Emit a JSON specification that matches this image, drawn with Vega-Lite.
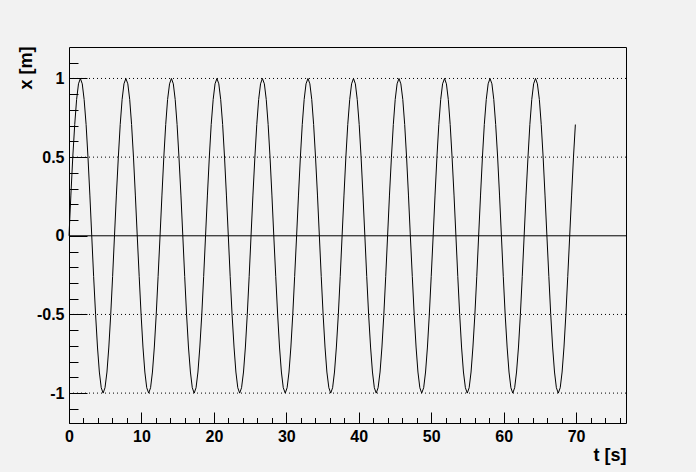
{
  "$schema": "https://vega.github.io/schema/vega-lite/v6.json",
  "width": 557,
  "height": 376,
  "autosize": "none",
  "padding": {"left": 69, "top": 47, "right": 70, "bottom": 49},
  "background": "#f2f2f2",
  "datasets": {
    "grid": [{"level": -1}, {"level": -0.5}, {"level": 0.5}, {"level": 1}],
    "zero": [{"t": 0, "x": 0}, {"t": 76.89, "x": 0}],
    "curve": [
      {"t":0,"x":0},{"t":0.26,"x":0.2588},{"t":0.52,"x":0.5},{"t":0.79,"x":0.7071},{"t":1.05,"x":0.866},{"t":1.31,"x":0.9659},{"t":1.57,"x":1},{"t":1.83,"x":0.9659},{"t":2.09,"x":0.866},{"t":2.36,"x":0.7071},{"t":2.62,"x":0.5},{"t":2.88,"x":0.2588},{"t":3.14,"x":0},{"t":3.4,"x":-0.2588},{"t":3.67,"x":-0.5},{"t":3.93,"x":-0.7071},{"t":4.19,"x":-0.866},{"t":4.45,"x":-0.9659},{"t":4.71,"x":-1},{"t":4.97,"x":-0.9659},{"t":5.24,"x":-0.866},{"t":5.5,"x":-0.7071},{"t":5.76,"x":-0.5},{"t":6.02,"x":-0.2588},
      {"t":6.28,"x":0},{"t":6.54,"x":0.2588},{"t":6.81,"x":0.5},{"t":7.07,"x":0.7071},{"t":7.33,"x":0.866},{"t":7.59,"x":0.9659},{"t":7.85,"x":1},{"t":8.12,"x":0.9659},{"t":8.38,"x":0.866},{"t":8.64,"x":0.7071},{"t":8.9,"x":0.5},{"t":9.16,"x":0.2588},{"t":9.42,"x":0},{"t":9.69,"x":-0.2588},{"t":9.95,"x":-0.5},{"t":10.21,"x":-0.7071},{"t":10.47,"x":-0.866},{"t":10.73,"x":-0.9659},{"t":11.0,"x":-1},{"t":11.26,"x":-0.9659},{"t":11.52,"x":-0.866},{"t":11.78,"x":-0.7071},{"t":12.04,"x":-0.5},{"t":12.3,"x":-0.2588},
      {"t":12.57,"x":0},{"t":12.83,"x":0.2588},{"t":13.09,"x":0.5},{"t":13.35,"x":0.7071},{"t":13.61,"x":0.866},{"t":13.88,"x":0.9659},{"t":14.14,"x":1},{"t":14.4,"x":0.9659},{"t":14.66,"x":0.866},{"t":14.92,"x":0.7071},{"t":15.18,"x":0.5},{"t":15.45,"x":0.2588},{"t":15.71,"x":0},{"t":15.97,"x":-0.2588},{"t":16.23,"x":-0.5},{"t":16.49,"x":-0.7071},{"t":16.76,"x":-0.866},{"t":17.02,"x":-0.9659},{"t":17.28,"x":-1},{"t":17.54,"x":-0.9659},{"t":17.8,"x":-0.866},{"t":18.06,"x":-0.7071},{"t":18.33,"x":-0.5},{"t":18.59,"x":-0.2588},
      {"t":18.85,"x":0},{"t":19.11,"x":0.2588},{"t":19.37,"x":0.5},{"t":19.63,"x":0.7071},{"t":19.9,"x":0.866},{"t":20.16,"x":0.9659},{"t":20.42,"x":1},{"t":20.68,"x":0.9659},{"t":20.94,"x":0.866},{"t":21.21,"x":0.7071},{"t":21.47,"x":0.5},{"t":21.73,"x":0.2588},{"t":21.99,"x":0},{"t":22.25,"x":-0.2588},{"t":22.51,"x":-0.5},{"t":22.78,"x":-0.7071},{"t":23.04,"x":-0.866},{"t":23.3,"x":-0.9659},{"t":23.56,"x":-1},{"t":23.82,"x":-0.9659},{"t":24.09,"x":-0.866},{"t":24.35,"x":-0.7071},{"t":24.61,"x":-0.5},{"t":24.87,"x":-0.2588},
      {"t":25.13,"x":0},{"t":25.39,"x":0.2588},{"t":25.66,"x":0.5},{"t":25.92,"x":0.7071},{"t":26.18,"x":0.866},{"t":26.44,"x":0.9659},{"t":26.7,"x":1},{"t":26.97,"x":0.9659},{"t":27.23,"x":0.866},{"t":27.49,"x":0.7071},{"t":27.75,"x":0.5},{"t":28.01,"x":0.2588},{"t":28.27,"x":0},{"t":28.54,"x":-0.2588},{"t":28.8,"x":-0.5},{"t":29.06,"x":-0.7071},{"t":29.32,"x":-0.866},{"t":29.58,"x":-0.9659},{"t":29.85,"x":-1},{"t":30.11,"x":-0.9659},{"t":30.37,"x":-0.866},{"t":30.63,"x":-0.7071},{"t":30.89,"x":-0.5},{"t":31.15,"x":-0.2588},
      {"t":31.42,"x":0},{"t":31.68,"x":0.2588},{"t":31.94,"x":0.5},{"t":32.2,"x":0.7071},{"t":32.46,"x":0.866},{"t":32.72,"x":0.9659},{"t":32.99,"x":1},{"t":33.25,"x":0.9659},{"t":33.51,"x":0.866},{"t":33.77,"x":0.7071},{"t":34.03,"x":0.5},{"t":34.3,"x":0.2588},{"t":34.56,"x":0},{"t":34.82,"x":-0.2588},{"t":35.08,"x":-0.5},{"t":35.34,"x":-0.7071},{"t":35.6,"x":-0.866},{"t":35.87,"x":-0.9659},{"t":36.13,"x":-1},{"t":36.39,"x":-0.9659},{"t":36.65,"x":-0.866},{"t":36.91,"x":-0.7071},{"t":37.18,"x":-0.5},{"t":37.44,"x":-0.2588},
      {"t":37.7,"x":0},{"t":37.96,"x":0.2588},{"t":38.22,"x":0.5},{"t":38.48,"x":0.7071},{"t":38.75,"x":0.866},{"t":39.01,"x":0.9659},{"t":39.27,"x":1},{"t":39.53,"x":0.9659},{"t":39.79,"x":0.866},{"t":40.06,"x":0.7071},{"t":40.32,"x":0.5},{"t":40.58,"x":0.2588},{"t":40.84,"x":0},{"t":41.1,"x":-0.2588},{"t":41.36,"x":-0.5},{"t":41.63,"x":-0.7071},{"t":41.89,"x":-0.866},{"t":42.15,"x":-0.9659},{"t":42.41,"x":-1},{"t":42.67,"x":-0.9659},{"t":42.94,"x":-0.866},{"t":43.2,"x":-0.7071},{"t":43.46,"x":-0.5},{"t":43.72,"x":-0.2588},
      {"t":43.98,"x":0},{"t":44.24,"x":0.2588},{"t":44.51,"x":0.5},{"t":44.77,"x":0.7071},{"t":45.03,"x":0.866},{"t":45.29,"x":0.9659},{"t":45.55,"x":1},{"t":45.81,"x":0.9659},{"t":46.08,"x":0.866},{"t":46.34,"x":0.7071},{"t":46.6,"x":0.5},{"t":46.86,"x":0.2588},{"t":47.12,"x":0},{"t":47.39,"x":-0.2588},{"t":47.65,"x":-0.5},{"t":47.91,"x":-0.7071},{"t":48.17,"x":-0.866},{"t":48.43,"x":-0.9659},{"t":48.69,"x":-1},{"t":48.96,"x":-0.9659},{"t":49.22,"x":-0.866},{"t":49.48,"x":-0.7071},{"t":49.74,"x":-0.5},{"t":50.0,"x":-0.2588},
      {"t":50.27,"x":0},{"t":50.53,"x":0.2588},{"t":50.79,"x":0.5},{"t":51.05,"x":0.7071},{"t":51.31,"x":0.866},{"t":51.57,"x":0.9659},{"t":51.84,"x":1},{"t":52.1,"x":0.9659},{"t":52.36,"x":0.866},{"t":52.62,"x":0.7071},{"t":52.88,"x":0.5},{"t":53.15,"x":0.2588},{"t":53.41,"x":0},{"t":53.67,"x":-0.2588},{"t":53.93,"x":-0.5},{"t":54.19,"x":-0.7071},{"t":54.45,"x":-0.866},{"t":54.72,"x":-0.9659},{"t":54.98,"x":-1},{"t":55.24,"x":-0.9659},{"t":55.5,"x":-0.866},{"t":55.76,"x":-0.7071},{"t":56.03,"x":-0.5},{"t":56.29,"x":-0.2588},
      {"t":56.55,"x":0},{"t":56.81,"x":0.2588},{"t":57.07,"x":0.5},{"t":57.33,"x":0.7071},{"t":57.6,"x":0.866},{"t":57.86,"x":0.9659},{"t":58.12,"x":1},{"t":58.38,"x":0.9659},{"t":58.64,"x":0.866},{"t":58.9,"x":0.7071},{"t":59.17,"x":0.5},{"t":59.43,"x":0.2588},{"t":59.69,"x":0},{"t":59.95,"x":-0.2588},{"t":60.21,"x":-0.5},{"t":60.48,"x":-0.7071},{"t":60.74,"x":-0.866},{"t":61.0,"x":-0.9659},{"t":61.26,"x":-1},{"t":61.52,"x":-0.9659},{"t":61.78,"x":-0.866},{"t":62.05,"x":-0.7071},{"t":62.31,"x":-0.5},{"t":62.57,"x":-0.2588},
      {"t":62.83,"x":0},{"t":63.09,"x":0.2588},{"t":63.36,"x":0.5},{"t":63.62,"x":0.7071},{"t":63.88,"x":0.866},{"t":64.14,"x":0.9659},{"t":64.4,"x":1},{"t":64.66,"x":0.9659},{"t":64.93,"x":0.866},{"t":65.19,"x":0.7071},{"t":65.45,"x":0.5},{"t":65.71,"x":0.2588},{"t":65.97,"x":0},{"t":66.24,"x":-0.2588},{"t":66.5,"x":-0.5},{"t":66.76,"x":-0.7071},{"t":67.02,"x":-0.866},{"t":67.28,"x":-0.9659},{"t":67.54,"x":-1},{"t":67.81,"x":-0.9659},{"t":68.07,"x":-0.866},{"t":68.33,"x":-0.7071},{"t":68.59,"x":-0.5},{"t":68.85,"x":-0.2588},
      {"t":69.12,"x":0},{"t":69.38,"x":0.2588},{"t":69.64,"x":0.5},{"t":69.9,"x":0.7071}
    ]
  },
  "layer": [
    {
      "data": {"name": "grid"},
      "mark": {"type": "rule", "color": "black", "strokeWidth": 1, "strokeDash": [1, 3]},
      "encoding": {
        "y": {
          "field": "level",
          "type": "quantitative",
          "scale": {"domain": [-1.19, 1.2], "nice": false, "zero": false},
          "axis": {
            "orient": "left",
            "values": [-1, -0.5, 0, 0.5, 1],
            "tickSize": -18,
            "labelPadding": 23,
            "labelFlush": false,
            "labelExpr": "'' + datum.value",
            "title": "x [m]",
            "titleAngle": -90,
            "titleAlign": "right",
            "titleBaseline": "alphabetic",
            "titleX": -38,
            "titleY": -1
          }
        }
      }
    },
    {
      "data": {"name": "zero"},
      "mark": {"type": "line", "color": "black", "strokeWidth": 1},
      "encoding": {
        "x": {
          "field": "t",
          "type": "quantitative",
          "scale": {"domain": [0, 76.89], "nice": false, "zero": false},
          "axis": {
            "orient": "bottom",
            "values": [0, 2, 4, 6, 8, 10, 12, 14, 16, 18, 20, 22, 24, 26, 28, 30, 32, 34, 36, 38, 40, 42, 44, 46, 48, 50, 52, 54, 56, 58, 60, 62, 64, 66, 68, 70, 72, 74, 76],
            "tickSize": -5.5,
            "labels": false,
            "title": null
          }
        },
        "y": {"field": "x", "type": "quantitative", "axis": null}
      }
    },
    {
      "data": {"name": "curve"},
      "mark": {"type": "line", "color": "black", "strokeWidth": 1},
      "encoding": {
        "x": {
          "field": "t",
          "type": "quantitative",
          "scale": {"domain": [0, 76.89], "nice": false, "zero": false},
          "axis": {
            "orient": "bottom",
            "values": [0, 10, 20, 30, 40, 50, 60, 70],
            "tickSize": -11,
            "labelPadding": 16,
            "labelFlush": false,
            "labelExpr": "'' + datum.value",
            "title": "t [s]",
            "titleAlign": "right",
            "titleBaseline": "alphabetic",
            "titleX": 557,
            "titleY": 37
          }
        },
        "y": {
          "field": "x",
          "type": "quantitative",
          "scale": {"domain": [-1.19, 1.2], "nice": false, "zero": false},
          "axis": {
            "orient": "left",
            "values": [-1.1, -1, -0.9, -0.8, -0.7, -0.6, -0.5, -0.4, -0.3, -0.2, -0.1, 0, 0.1, 0.2, 0.3, 0.4, 0.5, 0.6, 0.7, 0.8, 0.9, 1, 1.1],
            "tickSize": -9,
            "labels": false,
            "title": null
          }
        }
      }
    }
  ],
  "resolve": {"axis": {"x": "independent", "y": "independent"}},
  "config": {
    "view": {"stroke": "black", "strokeWidth": 1, "fill": "#f2f2f2"},
    "axis": {
      "domain": false,
      "grid": false,
      "tickColor": "black",
      "tickWidth": 1,
      "labelFont": "Liberation Sans",
      "labelFontWeight": "bold",
      "labelFontSize": 16,
      "labelColor": "black",
      "titleFont": "Liberation Sans",
      "titleFontWeight": "bold",
      "titleFontSize": 18,
      "titleColor": "black"
    }
  }
}
